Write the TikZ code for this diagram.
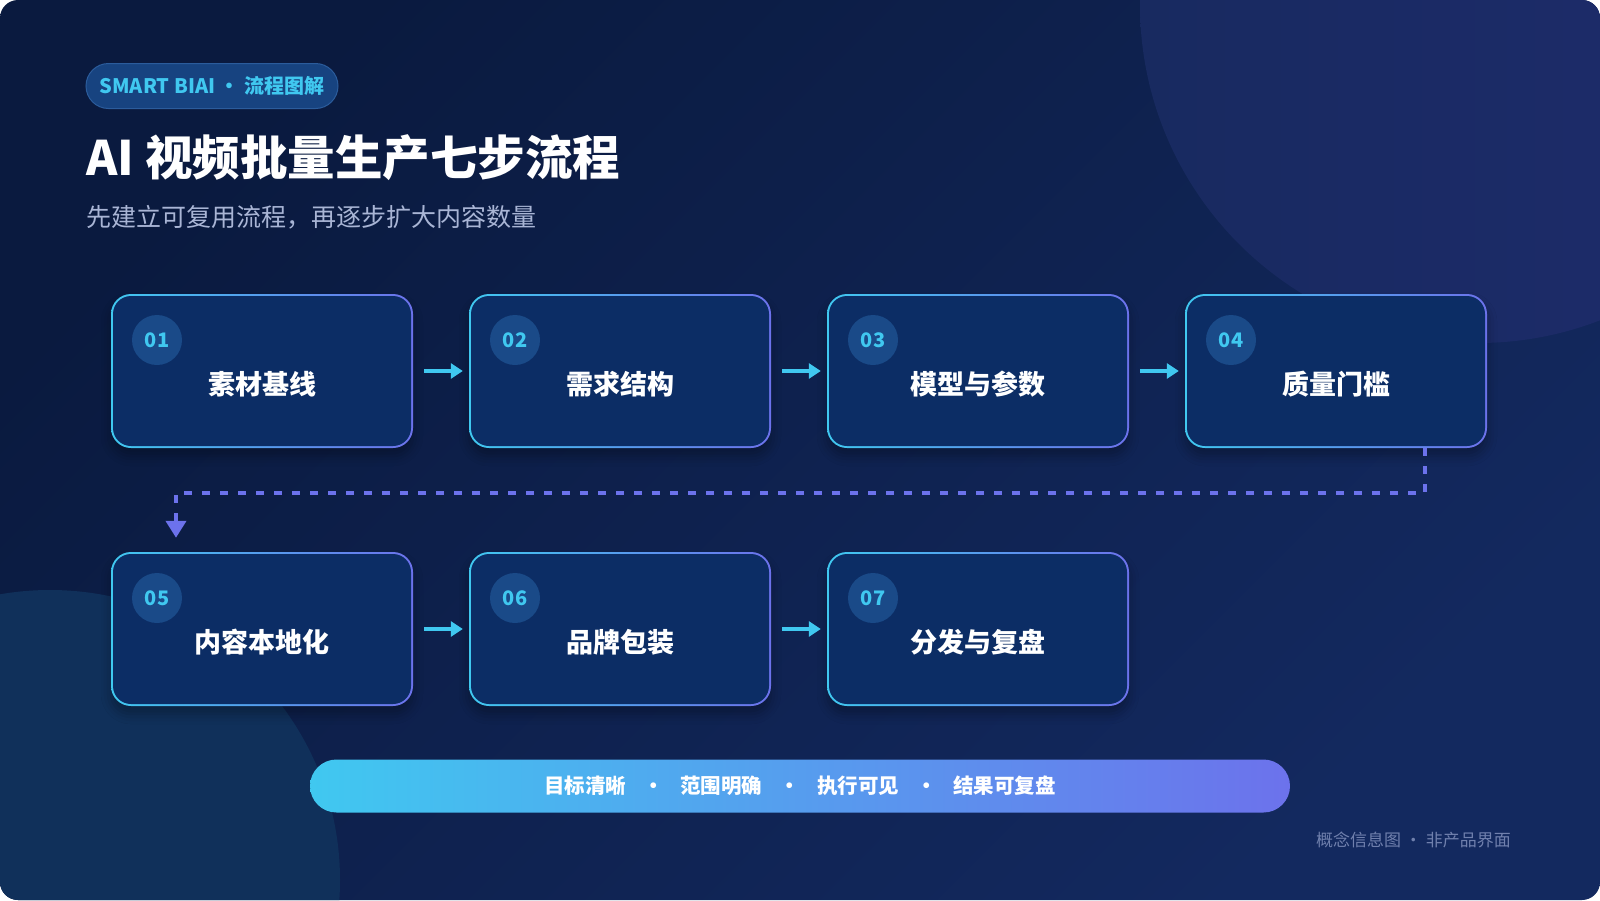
\documentclass[tikz,border=0pt]{standalone}
\usepackage{fontspec}
\setmainfont{Noto Sans CJK SC}
\usetikzlibrary{arrows.meta,shadows.blur}
\definecolor{bgdeep}{HTML}{0A1A3F}
\definecolor{bglight}{HTML}{13295F}
\definecolor{orbtop}{HTML}{182A60}
\definecolor{orbside}{HTML}{1E2B6C}
\definecolor{orblow}{HTML}{10305A}
\definecolor{edgecyan}{HTML}{40C8F0}
\definecolor{edgeviolet}{HTML}{6C72EC}
\definecolor{boxfill}{HTML}{0C2D65}
\definecolor{badgefill}{HTML}{1A4A88}
\definecolor{tagfill}{HTML}{174380}
\definecolor{tagedge}{HTML}{2B5C9C}
\definecolor{subtext}{HTML}{A9B5D5}
\definecolor{foottext}{HTML}{7080AD}
\begin{document}
\begin{tikzpicture}[x=1pt,y=-1pt,
  stepbox/.style={rounded corners=20pt,minimum width=302pt,minimum height=154pt,inner sep=0pt,
    left color=edgecyan,right color=edgeviolet,
    path picture={\fill[boxfill,rounded corners=18pt] ([shift={(2pt,2pt)}]path picture bounding box.south west) rectangle ([shift={(-2pt,-2pt)}]path picture bounding box.north east);},
    blur shadow={shadow xshift=0pt,shadow yshift=-8pt,shadow opacity=30,shadow blur radius=10pt}},
  badge/.style={circle,fill=badgefill,minimum size=50pt,inner sep=0pt,text=edgecyan,font=\fontsize{20pt}{24pt}\selectfont\bfseries},
  steplabel/.style={text=white,font=\fontsize{27pt}{31pt}\selectfont\bfseries},
  flow/.style={edgecyan,line width=4pt,-{Triangle[length=12pt,width=15pt]}},
  loopback/.style={edgeviolet,line width=4pt,dash pattern=on 8pt off 10pt,-{Triangle[length=17pt,width=20pt]}},
  bar/.style={rounded corners=26.5pt,minimum width=980pt,minimum height=53pt,inner sep=0pt,
    left color=edgecyan,right color=edgeviolet,text=white,font=\fontsize{20.5pt}{24pt}\selectfont\bfseries}]
\useasboundingbox (0,0) rectangle (1600,900);
% background card
\fill[white] (0,0) rectangle (1600,900);
\begin{scope}
  \clip[rounded corners=18pt] (0,0) rectangle (1600,900);
  \shade[top color=bgdeep,bottom color=bglight,shading angle=45] (0,0) rectangle (1600,900);
  \shade[left color=orbtop,right color=orbside] (1478,5) circle (338);
  \fill[orblow] (50,880) circle (290);
\end{scope}
% heading
\node[rounded corners=22.5pt,minimum width=252pt,minimum height=45pt,inner sep=0pt,fill=tagfill,draw=tagedge,line width=1pt,
  text=edgecyan,font=\fontsize{20pt}{24pt}\selectfont\bfseries] (tag) at (212,86) {SMART BIAI · 流程图解};
\node[anchor=west,inner sep=0pt,text=white,font=\fontsize{47.5pt}{54pt}\selectfont\bfseries] (title) at (86,158) {AI 视频批量生产七步流程};
\node[anchor=west,inner sep=0pt,text=subtext,font=\fontsize{25pt}{29pt}\selectfont] (subtitle) at (86,217) {先建立可复用流程，再逐步扩大内容数量};
% steps
\foreach \i/\x/\y/\txt in {1/262/371/素材基线,2/620/371/需求结构,3/978/371/模型与参数,4/1336/371/质量门槛,
    5/262/629/内容本地化,6/620/629/品牌包装,7/978/629/分发与复盘}{
  \node[stepbox] (s\i) at (\x,\y) {};
  \node[badge] (n\i) at ([xshift=-105pt,yshift=31pt]s\i.center) {0\i};
  \node[steplabel] (t\i) at ([yshift=-13pt]s\i.center) {\txt};
}
\foreach \a/\b in {1/2,2/3,3/4,5/6,6/7}
  \draw[flow] ([xshift=11pt]s\a.east) -- ([xshift=-6pt]s\b.west);
\coordinate (turn) at (176,493);
\draw[loopback] ([xshift=89pt]s4.south) |- (turn) -- ([xshift=-86pt,yshift=14pt]s5.north);
% principles bar
\node[bar] (principles) at (800,786) {目标清晰\hspace{17pt}•\hspace{17pt}范围明确\hspace{17pt}•\hspace{17pt}执行可见\hspace{17pt}•\hspace{17pt}结果可复盘};
\node[anchor=east,inner sep=0pt,text=foottext,font=\fontsize{17pt}{20pt}\selectfont] (note) at (1511,840) {概念信息图 · 非产品界面};
\end{tikzpicture}
\end{document}
